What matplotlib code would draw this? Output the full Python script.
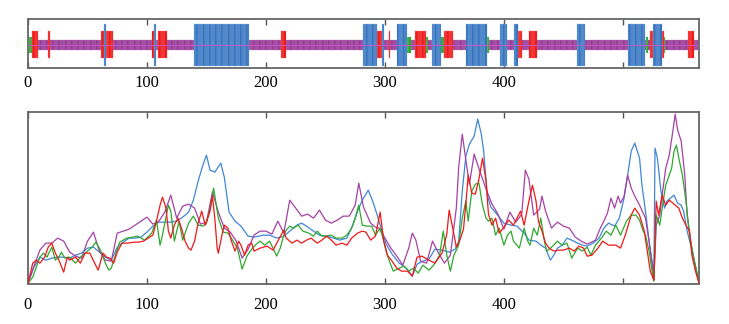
import numpy as np
import matplotlib
matplotlib.use('Agg')
import matplotlib.pyplot as plt

# ---------------- secondary-structure track ----------------
n_res = 563
helix = [(64, 65), (106, 107), (140, 185), (282, 293), (298, 299), (311, 318),
         (340, 347), (369, 385), (397, 402), (409, 411), (462, 468), (505, 518),
         (526, 532)]
strand = [(4, 8), (17, 18), (62, 63), (66, 71), (105, 105), (110, 116), (213, 216),
          (294, 297), (304, 304), (326, 334), (350, 357), (412, 415), (422, 427),
          (523, 525), (533, 534), (555, 559)]
turn = [(1, 3), (319, 321), (335, 336), (348, 349), (386, 387), (520, 521), (535, 535)]

# ---------------- profile series ----------------
blue_x = [0, 5, 10, 15, 20, 25, 30, 35, 40, 45, 50, 55, 60, 65, 70, 75, 80, 85, 90, 95, 100, 105, 110, 115, 120, 125,
          130, 135, 139, 143, 147, 150, 153, 157, 162, 165, 169, 174, 179, 185, 190, 198, 203, 209, 215, 220, 226,
          230, 234, 240, 245, 251, 257, 262, 268, 273, 277, 281, 286, 290, 293, 297, 301, 306, 312, 318, 323, 327,
          332, 337, 342, 348, 354, 359, 362, 365, 368, 371, 375, 378, 381, 383, 386, 389, 392, 396, 400, 406, 411,
          417, 421, 427, 431, 435, 439, 442, 445, 449, 453, 457, 462, 466, 470, 475, 480, 484, 488, 493, 497, 501,
          504, 507, 510, 514, 516, 519, 522, 525, 526, 527, 529, 532, 535, 537, 540, 543, 546, 549, 551, 554, 557,
          560, 563, 564]
blue_y = [1, 17, 27, 24, 26, 27, 27, 26, 29, 31, 36, 37, 32, 27, 24, 37, 42, 46, 46, 47, 52, 58, 62, 62, 62, 63,
          67, 72, 84, 103, 119, 129, 114, 112, 121, 107, 72, 63, 58, 48, 47, 49, 49, 46, 48, 53, 59,
          61, 58, 53, 49, 48, 46, 44, 46, 59, 73, 84, 94, 82, 71, 55, 40, 30, 21, 16, 8, 20,
          23, 25, 35, 34, 32, 35, 43, 93, 128, 140, 148, 165, 150, 133, 89, 77, 73, 67, 61, 59, 58,
          51, 44, 43, 39, 36, 24, 29, 36, 39, 46, 44, 41, 39, 38, 41, 46, 56, 61, 58, 66, 86,
          109, 133, 141, 126, 99, 73, 43, 19, 4, 136, 126, 93, 76, 83, 86, 89, 81, 79, 73, 53, 39,
          23, 6, 1]

purple_x = [0, 5, 10, 15, 20, 25, 30, 35, 40, 45, 50, 55, 60, 65, 70, 75, 80, 85, 90, 95, 100, 105, 110, 115, 120,
            125, 130, 135, 140, 145, 150, 155, 160, 165, 170, 175, 180, 185, 190, 195, 200, 205, 210, 215, 220,
            225, 230, 235, 240, 245, 250, 255, 260, 265, 270, 275, 278, 282, 288, 292, 295, 300, 305, 310, 315,
            320, 323, 326, 330, 335, 340, 345, 350, 355, 360, 362, 365, 368, 371, 375, 380, 385, 390, 395, 400,
            405, 410, 415, 418, 421, 425, 430, 432, 435, 440, 445, 450, 455, 460, 465, 470, 477, 481, 484, 487,
            490, 493, 496, 498, 501, 504, 507, 510, 514, 519, 522, 525, 526, 528, 531, 533, 536, 539, 542, 544,
            546, 549, 552, 554, 557, 560, 563, 564]
purple_y = [1, 18, 34, 41, 41, 46, 43, 32, 28, 26, 43, 52, 33, 24, 23, 51, 53, 55, 59, 63, 67, 60, 63, 72, 89,
            66, 78, 80, 76, 60, 62, 92, 72, 56, 52, 43, 26, 35, 49, 53, 53, 50, 63, 51, 84,
            76, 68, 70, 66, 74, 64, 61, 64, 68, 68, 79, 101, 77, 61, 57, 56, 46, 36, 28, 19,
            36, 51, 44, 23, 21, 43, 31, 21, 29, 76, 117, 150, 124, 100, 130, 112, 95, 80, 70, 55,
            72, 62, 70, 114, 105, 69, 75, 88, 73, 56, 62, 58, 56, 47, 43, 40, 44, 56, 63, 71,
            86, 76, 88, 81, 88, 109, 96, 88, 79, 66, 43, 16, 4, 59, 69, 89, 116, 129, 153, 170,
            154, 143, 109, 69, 43, 23, 6, 1]

red_x = [0, 4, 7, 10, 14, 17, 20, 23, 26, 30, 33, 35, 40, 44, 48, 52, 56, 59, 63, 66, 69, 72, 75, 79, 84, 89, 93,
         97, 101, 105, 108, 111, 113, 116, 118, 120, 123, 126, 129, 132, 135, 137, 140, 143, 146, 149, 151, 153,
         155, 157, 159, 160, 163, 165, 168, 171, 174, 177, 179, 182, 185, 188, 190, 195, 201, 206, 210, 215, 217,
         222, 226, 230, 234, 238, 243, 247, 251, 255, 259, 264, 268, 272, 277, 281, 284, 288, 292, 296, 299, 302,
         306, 310, 314, 319, 323, 327, 331, 337, 342, 348, 352, 354, 357, 360, 363, 366, 368, 370, 373, 376, 379,
         382, 385, 387, 390, 393, 396, 400, 404, 408, 411, 414, 417, 421, 424, 427, 429, 432, 435, 438, 442, 446,
         450, 455, 459, 463, 467, 470, 474, 479, 483, 488, 494, 498, 502, 507, 510, 514, 518, 521, 523, 526, 528,
         530, 533, 536, 539, 542, 544, 547, 550, 553, 556, 558, 561, 564]
red_y = [1, 21, 24, 21, 27, 37, 41, 31, 24, 12, 27, 24, 27, 21, 31, 31, 21, 14, 31, 27, 26, 21, 32, 41, 41, 42, 42,
         43, 46, 49, 63, 79, 87, 76, 53, 46, 59, 66, 56, 43, 36, 34, 43, 61, 73, 59, 66, 73,
         88, 66, 36, 31, 49, 59, 56, 43, 33, 43, 39, 29, 39, 41, 33, 36, 38, 34, 43, 54, 46,
         41, 44, 41, 44, 46, 41, 44, 48, 44, 39, 41, 39, 46, 51, 53, 52, 44, 48, 72, 43, 29,
         23, 16, 13, 13, 8, 27, 28, 24, 21, 31, 50, 74, 56, 37, 44, 55, 80, 109, 91, 90, 105,
         126, 103, 70, 59, 66, 51, 57, 64, 59, 66, 73, 59, 83, 99, 83, 63, 53, 41, 36, 33, 34,
         34, 36, 33, 38, 36, 28, 29, 36, 43, 39, 39, 36, 49, 69, 76, 69, 53, 29, 13, 4, 83,
         69, 89, 79, 84, 81, 79, 76, 66, 59, 53, 29, 13, 1]

green_x = [0, 4, 7, 10, 13, 16, 20, 23, 26, 28, 31, 35, 40, 44, 49, 54, 57, 61, 65, 68, 70, 73, 77, 83, 88, 92, 98,
           104, 108, 111, 113, 118, 120, 123, 127, 130, 135, 139, 143, 147, 150, 153, 156, 160, 164, 168, 172,
           176, 180, 184, 188, 191, 195, 199, 203, 206, 209, 212, 215, 217, 220, 223, 227, 231, 236, 240, 243,
           247, 251, 255, 259, 264, 268, 272, 275, 278, 281, 285, 289, 292, 296, 299, 302, 305, 307, 312, 316,
           320, 324, 328, 332, 337, 341, 346, 349, 352, 355, 358, 362, 365, 368, 370, 373, 376, 379, 382, 385,
           387, 390, 393, 396, 400, 403, 406, 408, 413, 417, 420, 422, 425, 428, 431, 434, 436, 441, 445, 449,
           453, 457, 462, 466, 470, 473, 477, 482, 486, 490, 494, 498, 503, 507, 511, 514, 517, 519, 522, 525,
           526, 528, 531, 533, 536, 539, 541, 543, 545, 547, 550, 553, 556, 559, 562, 564]
green_y = [1, 7, 17, 27, 31, 27, 37, 24, 27, 32, 26, 27, 21, 27, 32, 37, 42, 34, 21, 14, 16, 27, 42, 46, 47, 48, 44,
           51, 64, 39, 49, 79, 73, 43, 63, 44, 61, 68, 59, 58, 61, 75, 96, 66, 52, 51, 44,
           36, 15, 28, 35, 39, 43, 39, 43, 36, 28, 36, 49, 54, 58, 56, 59, 53, 51, 48, 53,
           48, 48, 49, 46, 46, 49, 56, 66, 79, 59, 58, 58, 49, 56, 43, 29, 19, 13, 16, 18,
           13, 16, 11, 19, 14, 19, 29, 53, 29, 13, 29, 39, 66, 83, 63, 93, 100, 101, 79, 66,
           63, 66, 49, 56, 39, 49, 53, 43, 36, 56, 43, 39, 56, 49, 66, 43, 33, 38, 43, 39,
           41, 26, 36, 33, 37, 29, 39, 46, 53, 49, 59, 49, 63, 69, 69, 64, 53, 49, 33, 9,
           3, 69, 59, 76, 99, 109, 116, 133, 139, 126, 109, 83, 49, 29, 13, 1]

tick_pos = [0, 100, 200, 300, 400, 500]
tick_lab = ['0', '100', '200', '300', '400', '']

plt.rcParams['font.family'] = ['Liberation Serif', 'DejaVu Serif']

fig = plt.figure(figsize=(7.29, 3.24), dpi=100)
ax1 = fig.add_axes([0.0384, 0.790, 0.9205, 0.151])
ax2 = fig.add_axes([0.0384, 0.123, 0.9205, 0.531])

# classify residues
ss = np.array(['C'] * (n_res + 1))
for a, b in helix:
    ss[a:b + 1] = 'H'
for a, b in strand:
    ss[a:b + 1] = 'E'
for a, b in turn:
    ss[a:b + 1] = 'T'
res = np.arange(1, n_res + 1)
kind = ss[1:]

styles = {
    'C': (0.375, 0.58, '#8f2f8f', '#c27ec2'),
    'H': (0.04, 0.90, '#2a68b8', '#8dbbe8'),
    'E': (0.21, 0.75, '#e80c0c', '#ff7070'),
    'T': (0.31, 0.625, '#1c9e1c', '#7ccc7c'),
}
for k in ['C', 'T', 'E', 'H']:
    lo, hi, fc, ec = styles[k]
    m = kind == k
    ax1.bar(res[m], hi - lo, bottom=lo, width=1.0, color=fc, edgecolor=ec,
            linewidth=0.22, zorder=2)
ax1.axhline(0.48, color='#c656c6', lw=0.7, zorder=3)
ax1.set_ylim(0, 1)
ax1.set_yticks([])

# profile lines
ax2.plot(blue_x, blue_y, color='#3f86d6', lw=0.9, zorder=2)
ax2.plot(purple_x, purple_y, color='#a442a4', lw=0.9, zorder=3)
ax2.plot(green_x, green_y, color='#2fa82f', lw=0.9, zorder=4)
ax2.plot(red_x, red_y, color='#f01818', lw=0.9, zorder=5)
ax2.set_ylim(0, 172)
ax2.set_yticks([])

for ax, pad in ((ax1, 5), (ax2, 9)):
    ax.set_xlim(0, 564)
    ax.set_xticks(tick_pos)
    ax.set_xticklabels(tick_lab)
    ax.tick_params(axis='x', direction='in', length=4, width=1, color='#555555',
                   top=True, bottom=True, labelsize=12, pad=pad)
    for s in ax.spines.values():
        s.set_color('#666666')
        s.set_linewidth(1.3)

fig.savefig('out.png', dpi=100)
